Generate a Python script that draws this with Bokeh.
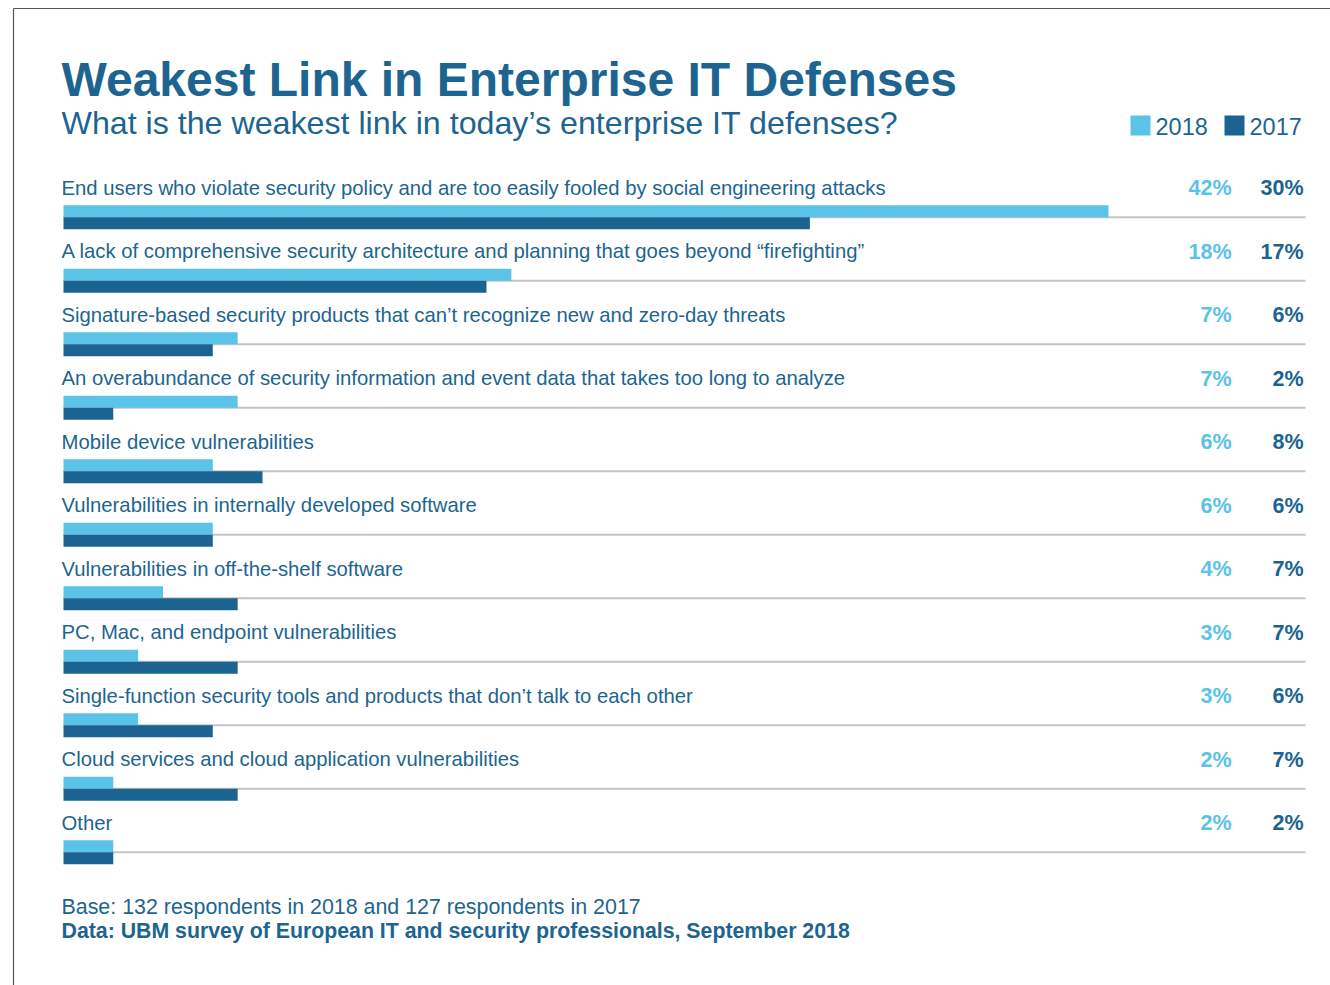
from bokeh.plotting import figure
from bokeh.models import ColumnDataSource, Range1d, Label
from bokeh.core.properties import value
from bokeh.embed import file_html
from bokeh.resources import INLINE
import numpy as np

# ---------------- data ----------------
categories = [
    "End users who violate security policy and are too easily fooled by social engineering attacks",
    "A lack of comprehensive security architecture and planning that goes beyond \u201cfirefighting\u201d",
    "Signature-based security products that can\u2019t recognize new and zero-day threats",
    "An overabundance of security information and event data that takes too long to analyze",
    "Mobile device vulnerabilities",
    "Vulnerabilities in internally developed software",
    "Vulnerabilities in off-the-shelf software",
    "PC, Mac, and endpoint vulnerabilities",
    "Single-function security tools and products that don\u2019t talk to each other",
    "Cloud services and cloud application vulnerabilities",
    "Other",
]
values_2018 = [42, 18, 7, 7, 6, 6, 4, 3, 3, 2, 2]
values_2017 = [30, 17, 6, 2, 8, 6, 7, 7, 6, 7, 2]
series_names = ["2018", "2017"]

title_text = "Weakest Link in Enterprise IT Defenses"
subtitle_text = "What is the weakest link in today\u2019s enterprise IT defenses?"
base_text = "Base: 132 respondents in 2018 and 127 respondents in 2017"
source_text = "Data: UBM survey of European IT and security professionals, September 2018"

# ---------------- styling / layout ----------------
W, H = 1330, 985
LIGHT = "#5bc2e8"
DARK = "#1b6491"
TEXT = "#1d6590"
GRID = "#c4c4c4"
FONT_NAME = "Liberation Sans"
FONT = value(FONT_NAME)

PX_PER_PCT = 24.88   # pixels per percentage point
X0_PX = 63           # pixel where 0% lies
ROW0_PX = 216.7      # pixel of first row separator
ROW_PX = 63.5        # pixels between rows
BASE_SHIFT = 0.38    # compensation for rendered baseline (em)


def px_x(px):
    return (px - X0_PX) / PX_PER_PCT


def px_y(py):
    return (py - ROW0_PX) / ROW_PX


def base_y(py, size):
    return px_y(py - BASE_SHIFT * size)


BAR_H = 12.0 / ROW_PX
LAB_SIZE = 20.3
VAL_SIZE = 21.5

n = len(categories)
rows = np.arange(n, dtype=float)

src = ColumnDataSource(dict(
    cat=categories,
    row=rows,
    v18=values_2018,
    v17=values_2017,
    y18=rows - BAR_H / 2,
    y17=rows + BAR_H / 2,
    ylab=rows + base_y(ROW0_PX - 21.7, LAB_SIZE),
    yval=rows + base_y(ROW0_PX - 21.0, VAL_SIZE),
    t18=[f"{v}%" for v in values_2018],
    t17=[f"{v}%" for v in values_2017],
))

p = figure(width=W, height=H, output_backend="svg", toolbar_location=None,
           x_range=Range1d(px_x(0), px_x(W)), y_range=Range1d(px_y(H), px_y(0)),
           x_axis_type=None, y_axis_type=None, min_border=0,
           outline_line_color=None, background_fill_color="white",
           border_fill_color="white")
p.grid.visible = False

# page border (top and left)
p.segment(x0=[px_x(13), px_x(13)], y0=[px_y(8), px_y(8)],
          x1=[px_x(W), px_x(13)], y1=[px_y(8), px_y(H)],
          line_color="#555555", line_width=1.2)

# row separators
p.segment(x0=0, x1=px_x(1305), y0="row", y1="row", source=src,
          line_color=GRID, line_width=2)

# bars
r18 = p.hbar(y="y18", left=0, right="v18", height=BAR_H, source=src,
             fill_color=LIGHT, line_color=None)
r17 = p.hbar(y="y17", left=0, right="v17", height=BAR_H, source=src,
             fill_color=DARK, line_color=None)

# category labels
p.text(x=px_x(61), y="ylab", text="cat", source=src, text_font=FONT,
       text_font_size=f"{LAB_SIZE}px", text_color=TEXT, text_baseline="alphabetic",
       text_align="left")
# value labels
p.text(x=px_x(1231), y="yval", text="t18", source=src, text_font=FONT,
       text_font_size=f"{VAL_SIZE}px", text_color=LIGHT, text_baseline="alphabetic",
       text_align="right", text_font_style="bold")
p.text(x=px_x(1303), y="yval", text="t17", source=src, text_font=FONT,
       text_font_size=f"{VAL_SIZE}px", text_color=DARK, text_baseline="alphabetic",
       text_align="right", text_font_style="bold")

# legend (manual)
LEG_SIZE = 23.5
leg_x = [px_x(1130) + 0.5 * 20 / PX_PER_PCT, px_x(1224) + 0.5 * 20 / PX_PER_PCT]
p.rect(x=leg_x, y=[px_y(125)] * 2, width=20 / PX_PER_PCT, height=20 / ROW_PX,
       fill_color=[LIGHT, DARK], line_color=None)
p.text(x=[px_x(1155), px_x(1249)], y=[base_y(134.5, LEG_SIZE)] * 2, text=series_names,
       text_font=FONT, text_font_size=f"{LEG_SIZE}px", text_color=TEXT,
       text_baseline="alphabetic", text_align="left")

# titles and footnotes
for txt, py, size, style in [
    (title_text, 97, 48, "bold"),
    (subtitle_text, 135, 32.2, "normal"),
    (base_text, 915, 21.4, "normal"),
    (source_text, 939, 21.3, "bold"),
]:
    p.add_layout(Label(x=px_x(61), y=base_y(py, size), text=txt, text_font=FONT_NAME,
                       text_font_size=f"{size}px", text_font_style=style,
                       text_color=TEXT, text_baseline="alphabetic",
                       text_align="left"))

open("out.html", "w").write(file_html(p, INLINE))
